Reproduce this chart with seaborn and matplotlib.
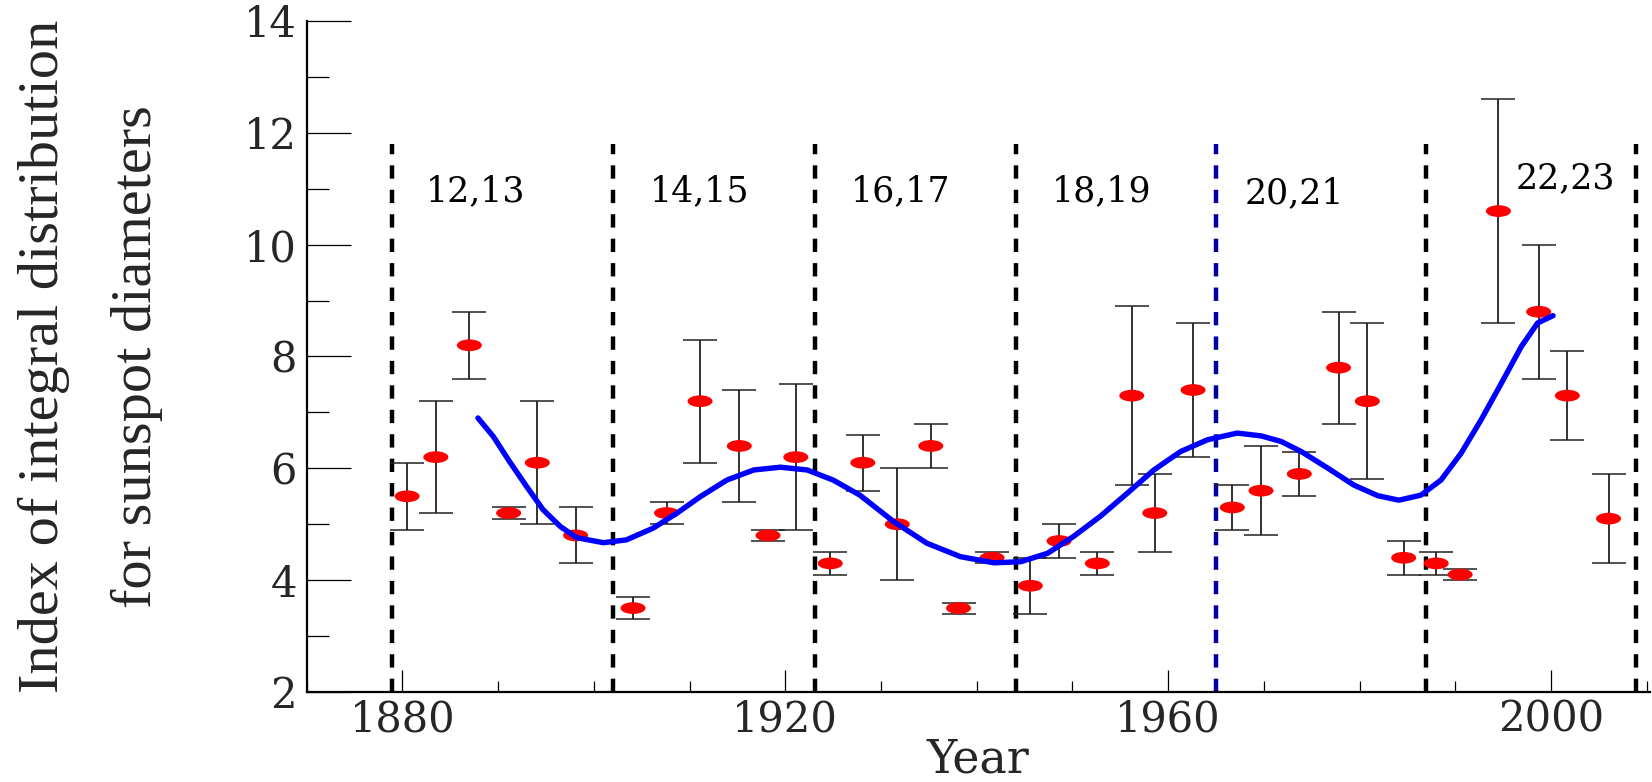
import numpy as np
import matplotlib
matplotlib.use("Agg")
import matplotlib.pyplot as plt
from matplotlib.path import Path
from matplotlib.transforms import Affine2D
from matplotlib.ticker import MultipleLocator
import seaborn as sns

# ---- data ----
years = [1880.5, 1883.5, 1887.0, 1891.1, 1894.1, 1898.1, 1904.1, 1907.6, 1911.1,
         1915.2, 1918.2, 1921.1, 1924.7, 1928.1, 1931.7, 1935.2, 1938.1, 1941.6,
         1945.6, 1948.6, 1952.6, 1956.2, 1958.6, 1962.6, 1966.7, 1969.7, 1973.7,
         1977.8, 1980.8, 1984.6, 1988.0, 1990.5, 1994.5, 1998.7, 2001.7, 2006.0]
values = [5.5, 6.2, 8.2, 5.2, 6.1, 4.8, 3.5, 5.2, 7.2, 6.4, 4.8, 6.2, 4.3, 6.1,
          5.0, 6.4, 3.5, 4.4, 3.9, 4.7, 4.3, 7.3, 5.2, 7.4, 5.3, 5.6, 5.9, 7.8,
          7.2, 4.4, 4.3, 4.1, 10.6, 8.8, 7.3, 5.1]
err_low = [4.9, 5.2, 7.6, 5.1, 5.0, 4.3, 3.3, 5.0, 6.1, 5.4, 4.7, 4.9, 4.1, 5.6,
           4.0, 6.0, 3.4, 4.3, 3.4, 4.4, 4.1, 5.7, 4.5, 6.2, 4.9, 4.8, 5.5, 6.8,
           5.8, 4.1, 4.1, 4.0, 8.6, 7.6, 6.5, 4.3]
err_high = [6.1, 7.2, 8.8, 5.3, 7.2, 5.3, 3.7, 5.4, 8.3, 7.4, 4.9, 7.5, 4.5, 6.6,
            6.0, 6.8, 3.6, 4.5, 4.4, 5.0, 4.5, 8.9, 5.9, 8.6, 5.7, 6.4, 6.3, 8.8,
            8.6, 4.7, 4.5, 4.2, 12.6, 10.0, 8.1, 5.9]

curve_years = [1887.9, 1889.5, 1891.2, 1893.0, 1894.7, 1896.5, 1898.2, 1901.0,
               1903.4, 1906.2, 1908.7, 1911.1, 1913.9, 1916.7, 1919.5, 1922.3,
               1925.0, 1927.8, 1931.3, 1934.8, 1938.3, 1941.8, 1944.6, 1947.4,
               1950.1, 1952.9, 1955.7, 1958.5, 1961.3, 1964.1, 1967.2, 1969.7,
               1971.8, 1973.9, 1976.7, 1979.4, 1981.9, 1984.1, 1986.4, 1988.5,
               1990.6, 1992.7, 1994.8, 1996.9, 1998.6, 2000.2]
curve_values = [6.90, 6.57, 6.12, 5.67, 5.26, 4.96, 4.76, 4.67, 4.72, 4.93, 5.20,
                5.49, 5.79, 5.97, 6.02, 5.97, 5.79, 5.52, 5.05, 4.66, 4.42, 4.31,
                4.33, 4.48, 4.78, 5.14, 5.55, 5.97, 6.30, 6.51, 6.63, 6.58, 6.48,
                6.30, 6.00, 5.70, 5.51, 5.43, 5.52, 5.79, 6.27, 6.87, 7.52, 8.18,
                8.60, 8.73]

boundary_years = [1878.9, 1902.0, 1923.1, 1944.1, 1965.0, 1986.9, 2008.9]
boundary_top = 11.8

cycle_labels = ["12,13", "14,15", "16,17", "18,19", "20,21", "22,23"]
cycle_label_years = [1887.7, 1911.0, 1932.0, 1953.1, 1973.2, 2001.5]
cycle_label_values = [10.95, 10.95, 10.95, 10.95, 10.92, 11.18]

# ---- styling ----
sns.set_theme(style="ticks")
plt.rcParams["font.family"] = ["DejaVu Serif"]

boundary_colors = ["black", "black", "black", "black", "#0000a0", "black", "black"]

fig = plt.figure(figsize=(16.52, 7.82), dpi=100)
ax = fig.add_axes([0.1856, 0.1151, 0.8130, 0.8581])

yv = np.array(values)
ax.errorbar(years, values,
            yerr=[yv - np.array(err_low), np.array(err_high) - yv],
            fmt="none", ecolor="#222222", elinewidth=1.3, capsize=12,
            capthick=1.1, zorder=2)

ellipse = Path.unit_circle().transformed(Affine2D().scale(1.0, 0.47))
sns.scatterplot(x=years, y=values, marker=ellipse, s=18 ** 2, color="red",
                edgecolor="none", linewidth=0, zorder=3, ax=ax, legend=False)

sns.lineplot(x=curve_years, y=curve_values, color="blue", linewidth=3.9,
             zorder=4, ax=ax, sort=False, legend=False)
ax.lines[-1].set_solid_capstyle("round")
ax.lines[-1].set_solid_joinstyle("round")

ax.vlines(boundary_years, 2, boundary_top, colors=boundary_colors,
          linestyles=[(0, (3, 2.5))], linewidth=3.2, zorder=1)

for lab, xx, yy in zip(cycle_labels, cycle_label_years, cycle_label_values):
    ax.text(xx, yy, lab, ha="center", va="center", fontsize=25,
            family="DejaVu Serif", color="black")

ax.set_xlim(1870, 2010.3)
ax.set_ylim(2, 14)
ax.xaxis.set_major_locator(MultipleLocator(40))
ax.xaxis.set_minor_locator(MultipleLocator(10))
ax.yaxis.set_major_locator(MultipleLocator(2))
ax.yaxis.set_minor_locator(MultipleLocator(1))

ax.tick_params(axis="both", which="both", direction="in", color="black",
               width=0.9)
ax.tick_params(axis="y", which="major", length=32, pad=7, labelsize=30)
ax.tick_params(axis="y", which="minor", length=16)
ax.tick_params(axis="x", which="major", length=16, pad=5, labelsize=30)
ax.tick_params(axis="x", which="minor", length=8)

for s in ["top", "right"]:
    ax.spines[s].set_visible(False)
ax.spines["left"].set_linewidth(1.6)
ax.spines["bottom"].set_linewidth(1.6)
ax.spines["left"].set_color("black")
ax.spines["bottom"].set_color("black")
ax.grid(False)
ax.set_facecolor("white")

ax.set_xlabel("Year", fontsize=33, family="DejaVu Serif")
ax.xaxis.set_label_coords(0.5, -0.1200)
ax.xaxis.label.set_verticalalignment("baseline")

ax.set_ylabel("Index of integral distribution\nfor sunspot diameters",
              fontsize=42, family="Liberation Serif", linespacing=2.0)
ax.yaxis.set_label_coords(-0.107, 0.5)

fig.savefig("out.png", dpi=100, facecolor="white")
